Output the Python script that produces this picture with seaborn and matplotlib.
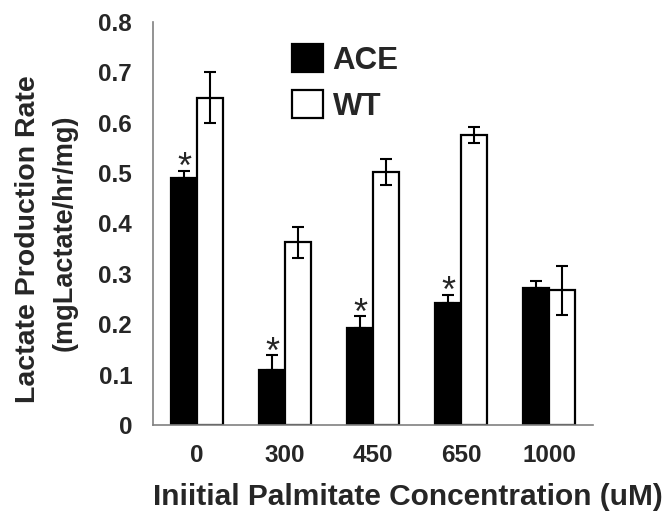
import numpy as np
import pandas as pd
import seaborn as sns
import matplotlib.pyplot as plt

concs = ["0", "300", "450", "650", "1000"]
groups = ["ACE", "WT"]
ace = [0.491, 0.110, 0.192, 0.243, 0.271]
wt = [0.650, 0.363, 0.502, 0.576, 0.267]
ace_err = [0.014, 0.029, 0.024, 0.016, 0.014]
wt_err = [0.051, 0.031, 0.026, 0.016, 0.049]
signif = [True, True, True, True, False]

df = pd.DataFrame({
    "conc": concs * 2,
    "group": ["ACE"] * 5 + ["WT"] * 5,
    "rate": ace + wt,
})

sns.set_style("white")
plt.rcParams['font.family'] = ['Liberation Sans', 'DejaVu Sans']
plt.rcParams['font.weight'] = 'bold'

fig = plt.figure(figsize=(6.69, 5.21), dpi=100)
ax = fig.add_axes([0.2287, 0.1843, 0.6577, 0.7735])

sns.barplot(data=df, x="conc", y="rate", hue="group", order=concs,
            hue_order=groups, palette=["black", "white"], edgecolor="black",
            linewidth=1.6, width=0.59, dodge=True, gap=0, ax=ax, errorbar=None)
ax.set_xlabel("")
ax.set_ylabel("")

# error bars: bar patches are in hue order (ACE first, then WT)
bars = [p for p in ax.patches if p.get_height() > 0][:10]
ace_bars, wt_bars = bars[:5], bars[5:]
for b, v, e, s in zip(ace_bars, ace, ace_err, signif):
    xc = b.get_x() + b.get_width() / 2
    ax.errorbar(xc, v, yerr=[[0], [e]], color="black", lw=1.5, capsize=4, capthick=1.5)
    if s:
        ax.annotate("*", xy=(xc, v + e), xytext=(0, -5.5), textcoords="offset points",
                    ha="center", va="baseline", fontsize=26, fontweight="normal")
for b, v, e in zip(wt_bars, wt, wt_err):
    xc = b.get_x() + b.get_width() / 2
    ax.errorbar(xc, v, yerr=e, color="black", lw=1.5, capsize=4, capthick=1.5)

ax.set_xlim(-0.5, 4.5)
ax.set_ylim(0, 0.8)
ax.set_yticks(np.arange(0, 0.81, 0.1))
ax.set_yticklabels(["0"] + [f"{t:.1f}" for t in np.arange(0.1, 0.81, 0.1)])
ax.set_xticks(np.arange(-0.5, 4.6, 1))
ax.set_xticklabels([])
ax.set_xticks(range(5), minor=True)
ax.set_xticklabels(concs, minor=True)
ax.tick_params(axis="x", which="major", length=5, width=1, color="#808080", direction="out")
ax.tick_params(axis="x", which="minor", length=0, pad=14, labelsize=17.5)
ax.tick_params(axis="y", length=5, width=1, color="#808080", direction="out",
               pad=10, labelsize=17.5)
for lab in ax.get_xticklabels(minor=True) + ax.get_yticklabels():
    lab.set_fontweight("bold")

for side in ["top", "right"]:
    ax.spines[side].set_visible(False)
for side in ["left", "bottom"]:
    ax.spines[side].set_color("#808080")
    ax.spines[side].set_linewidth(1.2)

fig.text(408 / 669, 1 - 497 / 521, "Iniitial Palmitate Concentration (uM)",
         fontsize=21.5, fontweight="bold", ha="center", va="center")
fig.text(28 / 669, 1 - 239 / 521, "Lactate Production Rate", rotation=90,
         fontsize=20.5, fontweight="bold", ha="center", va="center")
fig.text(65 / 669, 1 - 233 / 521, "(mgLactate/hr/mg)", rotation=90,
         fontsize=19.5, fontweight="bold", ha="center", va="center")

h, l = ax.get_legend_handles_labels()
ax.legend(h, l, loc="upper left", bbox_to_anchor=(0.316, 0.945), frameon=False,
          prop={"weight": "bold", "size": 22.5}, handlelength=1.0,
          handleheight=1.0, handletextpad=0.3, labelspacing=0.45, borderpad=0,
          borderaxespad=0)

fig.savefig("out.png", dpi=100)
